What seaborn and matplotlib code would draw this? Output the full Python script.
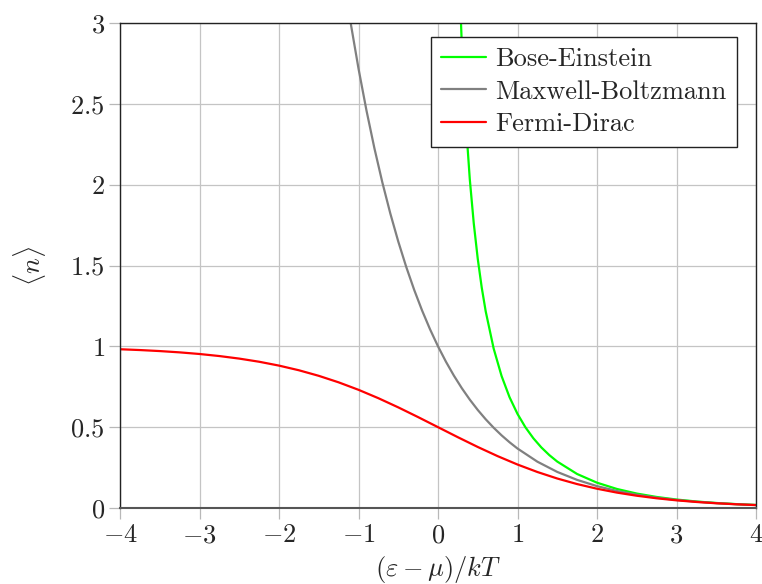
import numpy as np
import pandas as pd
import matplotlib
matplotlib.use("Agg")
import matplotlib.pyplot as plt
from matplotlib.ticker import FuncFormatter, MultipleLocator
import seaborn as sns

# Mean occupation number <n> versus (eps - mu)/kT for the three statistics
be_x = [0.25, 0.3, 0.35, 0.4, 0.45, 0.5, 0.55, 0.6, 0.7, 0.8, 0.9, 1.0, 1.1, 1.2,
        1.3, 1.4, 1.5, 1.75, 2.0, 2.25, 2.5, 2.75, 3.0, 3.25, 3.5, 3.75, 4.0]
be_n = [3.521, 2.858, 2.386, 2.033, 1.760, 1.5415, 1.3638, 1.2164, 0.9864, 0.8160,
        0.6851, 0.5820, 0.4990, 0.4310, 0.3746, 0.3273, 0.2872, 0.2103, 0.1565,
        0.1178, 0.0894, 0.0683, 0.0524, 0.0403, 0.0311, 0.0241, 0.0187]

mb_x = [-1.2, -1.1, -1.0, -0.9, -0.8, -0.7, -0.6, -0.5, -0.4, -0.3, -0.2, -0.1, 0.0,
        0.1, 0.2, 0.3, 0.4, 0.5, 0.6, 0.7, 0.8, 0.9, 1.0, 1.25, 1.5, 1.75, 2.0,
        2.25, 2.5, 2.75, 3.0, 3.25, 3.5, 3.75, 4.0]
mb_n = [3.3201, 3.0042, 2.7183, 2.4596, 2.2255, 2.0138, 1.8221, 1.6487, 1.4918,
        1.3499, 1.2214, 1.1052, 1.0, 0.9048, 0.8187, 0.7408, 0.6703, 0.6065, 0.5488,
        0.4966, 0.4493, 0.4066, 0.3679, 0.2865, 0.2231, 0.1738, 0.1353, 0.1054,
        0.0821, 0.0639, 0.0498, 0.0388, 0.0302, 0.0235, 0.0183]

fd_x = [-4.0, -3.75, -3.5, -3.25, -3.0, -2.75, -2.5, -2.25, -2.0, -1.75, -1.5, -1.25,
        -1.0, -0.75, -0.5, -0.25, 0.0, 0.25, 0.5, 0.75, 1.0, 1.25, 1.5, 1.75, 2.0,
        2.25, 2.5, 2.75, 3.0, 3.25, 3.5, 3.75, 4.0]
fd_n = [0.9820, 0.9770, 0.9707, 0.9627, 0.9526, 0.9399, 0.9241, 0.9047, 0.8808,
        0.8520, 0.8176, 0.7773, 0.7311, 0.6792, 0.6225, 0.5622, 0.5, 0.4378, 0.3775,
        0.3208, 0.2689, 0.2227, 0.1824, 0.1480, 0.1192, 0.0953, 0.0759, 0.0601,
        0.0474, 0.0373, 0.0293, 0.0230, 0.0180]

labels = ["Bose-Einstein", "Maxwell-Boltzmann", "Fermi-Dirac"]
colors = {"Bose-Einstein": "#00ff00", "Maxwell-Boltzmann": "#808080",
          "Fermi-Dirac": "#ff0000"}

df = pd.concat([
    pd.DataFrame({"x": be_x, "n": be_n, "dist": labels[0]}),
    pd.DataFrame({"x": mb_x, "n": mb_n, "dist": labels[1]}),
    pd.DataFrame({"x": fd_x, "n": fd_n, "dist": labels[2]}),
], ignore_index=True)

sns.set_theme(style="white")
plt.rcParams.update({
    "font.family": "serif",
    "font.serif": ["cmr10", "DejaVu Serif"],
    "mathtext.fontset": "cm",
    "axes.formatter.use_mathtext": True,
    "axes.unicode_minus": False,
})

FS = 19

fig = plt.figure(figsize=(7.62, 5.84), dpi=100)
ax = fig.add_axes([120 / 762, 1 - 508 / 584, 636 / 762, 485 / 584])

sns.lineplot(data=df, x="x", y="n", hue="dist", hue_order=labels, palette=colors,
             estimator=None, sort=False, linewidth=1.6, ax=ax)

ax.set_xlim(-4, 4)
ax.set_ylim(0, 3)
ax.xaxis.set_major_locator(MultipleLocator(1))
ax.yaxis.set_major_locator(MultipleLocator(0.5))
fmt = FuncFormatter(lambda v, p: f"${v:g}$")
ax.xaxis.set_major_formatter(fmt)
ax.yaxis.set_major_formatter(fmt)
ax.tick_params(axis="both", which="major", direction="out", length=8, width=0.9,
               color="#b8b8b8", labelsize=FS, pad=3, left=True, bottom=True)
ax.grid(True, color="#c4c4c4", linewidth=0.9)
ax.set_axisbelow(True)
for side, sp in ax.spines.items():
    sp.set_visible(True)
    sp.set_color("#222222")
    sp.set_linewidth(1.0)
ax.spines["bottom"].set_color("#555555")
ax.spines["bottom"].set_linewidth(1.5)

ax.set_xlabel(r"$(\varepsilon-\mu)/kT$", fontsize=FS, labelpad=5)
ax.set_ylabel(r"$\langle n\rangle$", fontsize=FS, labelpad=16)

handles, _ = ax.get_legend_handles_labels()
leg = ax.legend(handles, labels, loc="upper right",
                bbox_to_anchor=((737 - 120) / 636, (508 - 37) / 485),
                borderaxespad=0, fancybox=False, framealpha=1, edgecolor="#222222",
                fontsize=FS, handlelength=1.7, handletextpad=0.35, labelspacing=0.33,
                borderpad=0.4)
leg.get_frame().set_linewidth(1.0)

fig.savefig("out.png", dpi=100)
